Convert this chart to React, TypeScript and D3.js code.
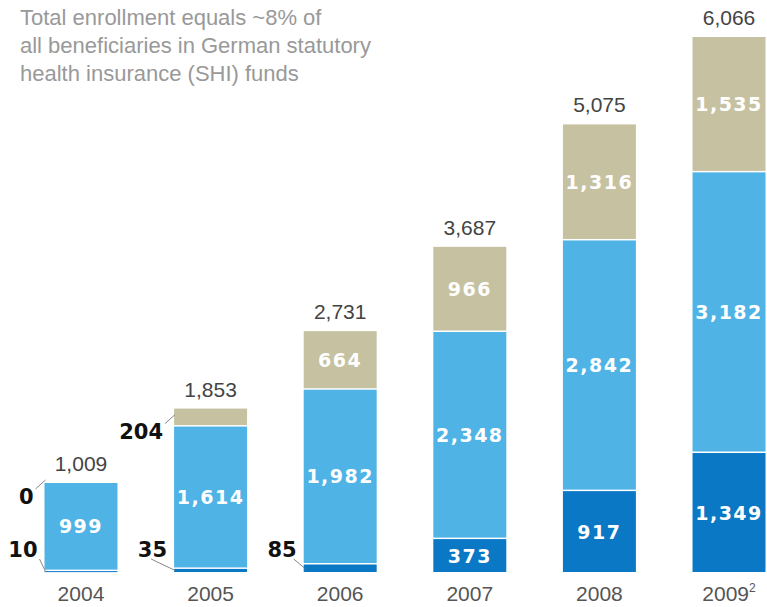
import * as d3 from "d3"

const years = ["2004", "2005", "2006", "2007", "2008", "2009"]
const darkBlue = [10, 35, 85, 373, 917, 1349]
const lightBlue = [999, 1614, 1982, 2348, 2842, 3182]
const beige = [0, 204, 664, 966, 1316, 1535]
const totals = [1009, 1853, 2731, 3687, 5075, 6066]
const titleLines = [
    "Total enrollment equals ~8% of",
    "all beneficiaries in German statutory",
    "health insurance (SHI) funds",
]

const keys = ["dark", "light", "beige"] as const
const colors: Record<string, string> = { dark: "#0a78c4", light: "#4fb3e6", beige: "#c6c2a1" }

// where the leader line of a small bottom value starts, relative to the bar's left edge
const leaderStart: Record<string, number> = { "2004": -5, "2005": -23, "2006": -10 }

const fmt = d3.format(",")

export default function App() {
    const width = 767
    const height = 607
    const baseline = 572

    const rows = years.map((y, i) => ({ year: y, dark: darkBlue[i], light: lightBlue[i], beige: beige[i] }))
    const series = d3.stack<any>().keys(keys as any)(rows)

    const x = d3.scaleBand().domain(years).range([44.5, 765.5]).paddingInner(0.437).paddingOuter(0)
    const y = d3.scaleLinear().domain([0, 6066]).range([baseline, 37])
    const bw = x.bandwidth()

    return (
        <div style={{ position: "absolute", left: 0, top: 0 }}>
            <svg width={width} height={height} style={{ display: "block", background: "#fff" }}>
                <g fontFamily="Liberation Sans, Arial, sans-serif" fill="#999" fontSize={22}>
                    {titleLines.map((t, i) => (
                        <text key={i} x={20} y={25 + i * 28}>{t}</text>
                    ))}
                </g>

                {series.map((s) => (
                    <g key={s.key}>
                        {s.map((d, i) => {
                            const v = d[1] - d[0]
                            if (v <= 0) return null
                            const top = y(d[1])
                            const bottom = y(d[0]) - (d[0] > 0 ? 1.5 : 0)
                            const bx = x(years[i])!
                            const h = bottom - top
                            return (
                                <g key={i}>
                                    <rect x={bx} y={top} width={bw} height={Math.max(h, 1)} fill={colors[s.key]} />
                                    {h > 25 && (
                                        <text x={bx + bw / 2} y={(top + bottom) / 2 + 7} textAnchor="middle"
                                            fill="#fff" fontFamily="DejaVu Sans, sans-serif" fontWeight="bold"
                                            fontSize={19} letterSpacing={1.5}>
                                            {fmt(v)}
                                        </text>
                                    )}
                                </g>
                            )
                        })}
                    </g>
                ))}

                {/* small values labelled outside the bar */}
                {series.map((s) =>
                    s.map((d, i) => {
                        const v = d[1] - d[0]
                        const seg = y(d[1]) - y(d[0])
                        if (Math.abs(seg) > 25) return null
                        const bx = x(years[i])!
                        if (s.key === "beige") {
                            const mid = (y(d[1]) + y(d[0])) / 2
                            return (
                                <g key={s.key + i}>
                                    <line x1={bx - 9} y1={mid + 6} x2={bx + 1} y2={mid - 3} stroke="#888" strokeWidth={1} />
                                    <text x={bx - 11} y={mid + 21} textAnchor="end" fontFamily="DejaVu Sans, sans-serif"
                                        fontWeight="bold" fontSize={21} fill="#111">{fmt(v)}</text>
                                </g>
                            )
                        }
                        if (s.key === "dark") {
                            const mid = (y(d[1]) + y(d[0])) / 2
                            return (
                                <g key={s.key + i}>
                                    <line x1={bx + leaderStart[years[i]]} y1={559} x2={bx + 1} y2={mid} stroke="#888" strokeWidth={1} />
                                    <text x={bx - 7} y={baseline - 15} textAnchor="end" fontFamily="DejaVu Sans, sans-serif"
                                        fontWeight="bold" fontSize={21} fill="#111">{fmt(v)}</text>
                                </g>
                            )
                        }
                        return null
                    })
                )}

                <g fontFamily="Liberation Sans, Arial, sans-serif" fontSize={21} fill="#444" textAnchor="middle">
                    {totals.map((t, i) => (
                        <text key={i} x={x(years[i])! + bw / 2} y={y(t) - 12}>{fmt(t)}</text>
                    ))}
                </g>

                <g fontFamily="Liberation Sans, Arial, sans-serif" fontSize={21} fill="#555" textAnchor="middle">
                    {years.map((yr, i) => (
                        <text key={yr} x={x(yr)! + bw / 2} y={601}>
                            {yr}
                            {i === years.length - 1 && <tspan fontSize={12} dy={-9}>2</tspan>}
                        </text>
                    ))}
                </g>
            </svg>
        </div>
    )
}
